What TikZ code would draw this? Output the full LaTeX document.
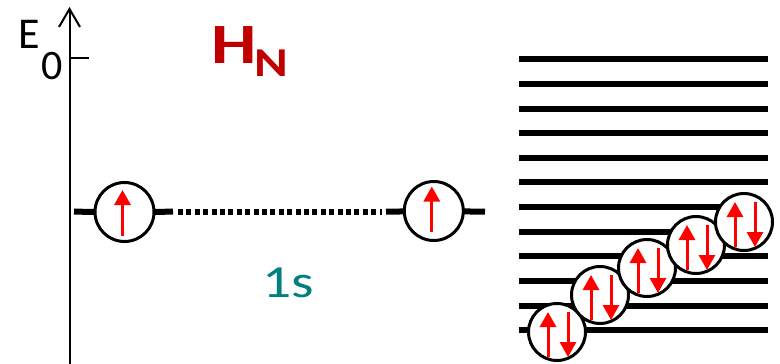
\documentclass[tikz,border=0pt]{standalone}
\usepackage{fontspec}
\setmainfont{Carlito}
\usetikzlibrary{arrows.meta,calc,backgrounds}

\definecolor{hnred}{RGB}{192,0,0}
\definecolor{orbteal}{RGB}{0,128,128}

\tikzset{
  level/.style={line width=6pt},
  dotlevel/.style={line width=6pt, dash pattern=on 5pt off 3.4pt},
  axisline/.style={line width=2pt},
  single/.style={circle, draw, fill=white, line width=3pt, minimum size=59pt, inner sep=0pt},
  pair/.style={circle, draw, fill=white, line width=3pt, minimum size=57pt, inner sep=0pt},
  spin/.style={red, line width=3pt, -{Triangle[length=15pt,width=16pt]}},
  lbl/.style={inner sep=0pt, anchor=base west}
}

\begin{document}
\begin{tikzpicture}[x=1pt,y=-1pt]
\useasboundingbox (0,0) rectangle (780,364);

% energy axis with its zero tick
\coordinate (axbot) at (69.5,364);
\coordinate (axtop) at (69.5,7);
\coordinate (tick0) at (69.5,58.3);
\coordinate (tick1) at (89,58.3);
\draw[axisline, -{Straight Barb[length=18pt,width=21pt,line width=2pt]}] (axbot) -- (axtop);
\draw[axisline] (tick0) -- (tick1);
\node[lbl, font=\fontsize{44}{44}\selectfont] (elbl) at (18,48) {E};
\node[lbl, font=\fontsize{42}{42}\selectfont] (zlbl) at (41,79) {0};

% label of the atom
\node[lbl, text=hnred, font=\bfseries\fontsize{57}{57}\selectfont] (hlbl) at (211.3,63.3)
  {\scalebox{1.26}[1]{H}};
\node[lbl, text=hnred, font=\bfseries\fontsize{41}{41}\selectfont] (nlbl) at (254.4,76.7)
  {\scalebox{1.25}[1]{N}};

% two 1s orbitals, each with one electron
\node[single] (s1) at (124.5,212) {};
\node[single] (s2) at (433.8,211) {};
\coordinate (lvA) at (74,211.7);
\coordinate (lvB) at (173,211.7);
\coordinate (dtA) at (178,211.7);
\coordinate (dtB) at (382,211.7);
\coordinate (lvC) at (386,211.7);
\coordinate (lvD) at (485,211.7);
\begin{scope}[on background layer]
  \draw[level] (lvA) -- (s1.center) -- (lvB);
  \draw[dotlevel] (dtA) -- (dtB);
  \draw[level] (lvC) -- (s2.center) -- (lvD);
\end{scope}
\draw[spin] ($(s1)+(-2,23.5)$) -- ($(s1)+(-2,-22)$);
\draw[spin] ($(s2)+(-2,20.5)$) -- ($(s2)+(-2,-24.5)$);
\node[lbl, text=orbteal, font=\fontsize{46}{46}\selectfont] (ones) at (261.9,297.3)
  {\scalebox{1.25}[1]{1s}};

% band of levels filled with electron pairs
\foreach \i [evaluate=\i as \yy using {59.3+(\i-1)*24.62}] in {1,...,12} {
  \coordinate (b\i a) at (519,\yy);
  \coordinate (b\i b) at (768,\yy);
  \draw[level] (b\i a) -- (b\i b);
}
\foreach \n/\px/\py in {1/557/332, 2/600/295, 3/647/268, 4/696/245, 5/744/222} {
  \node[pair] (p\n) at (\px,\py) {};
  \draw[spin] ($(p\n)+(-9,25)$) -- ($(p\n)+(-9,-20)$);
  \draw[spin] ($(p\n)+(11,-20)$) -- ($(p\n)+(11,25)$);
}
\end{tikzpicture}
\end{document}
